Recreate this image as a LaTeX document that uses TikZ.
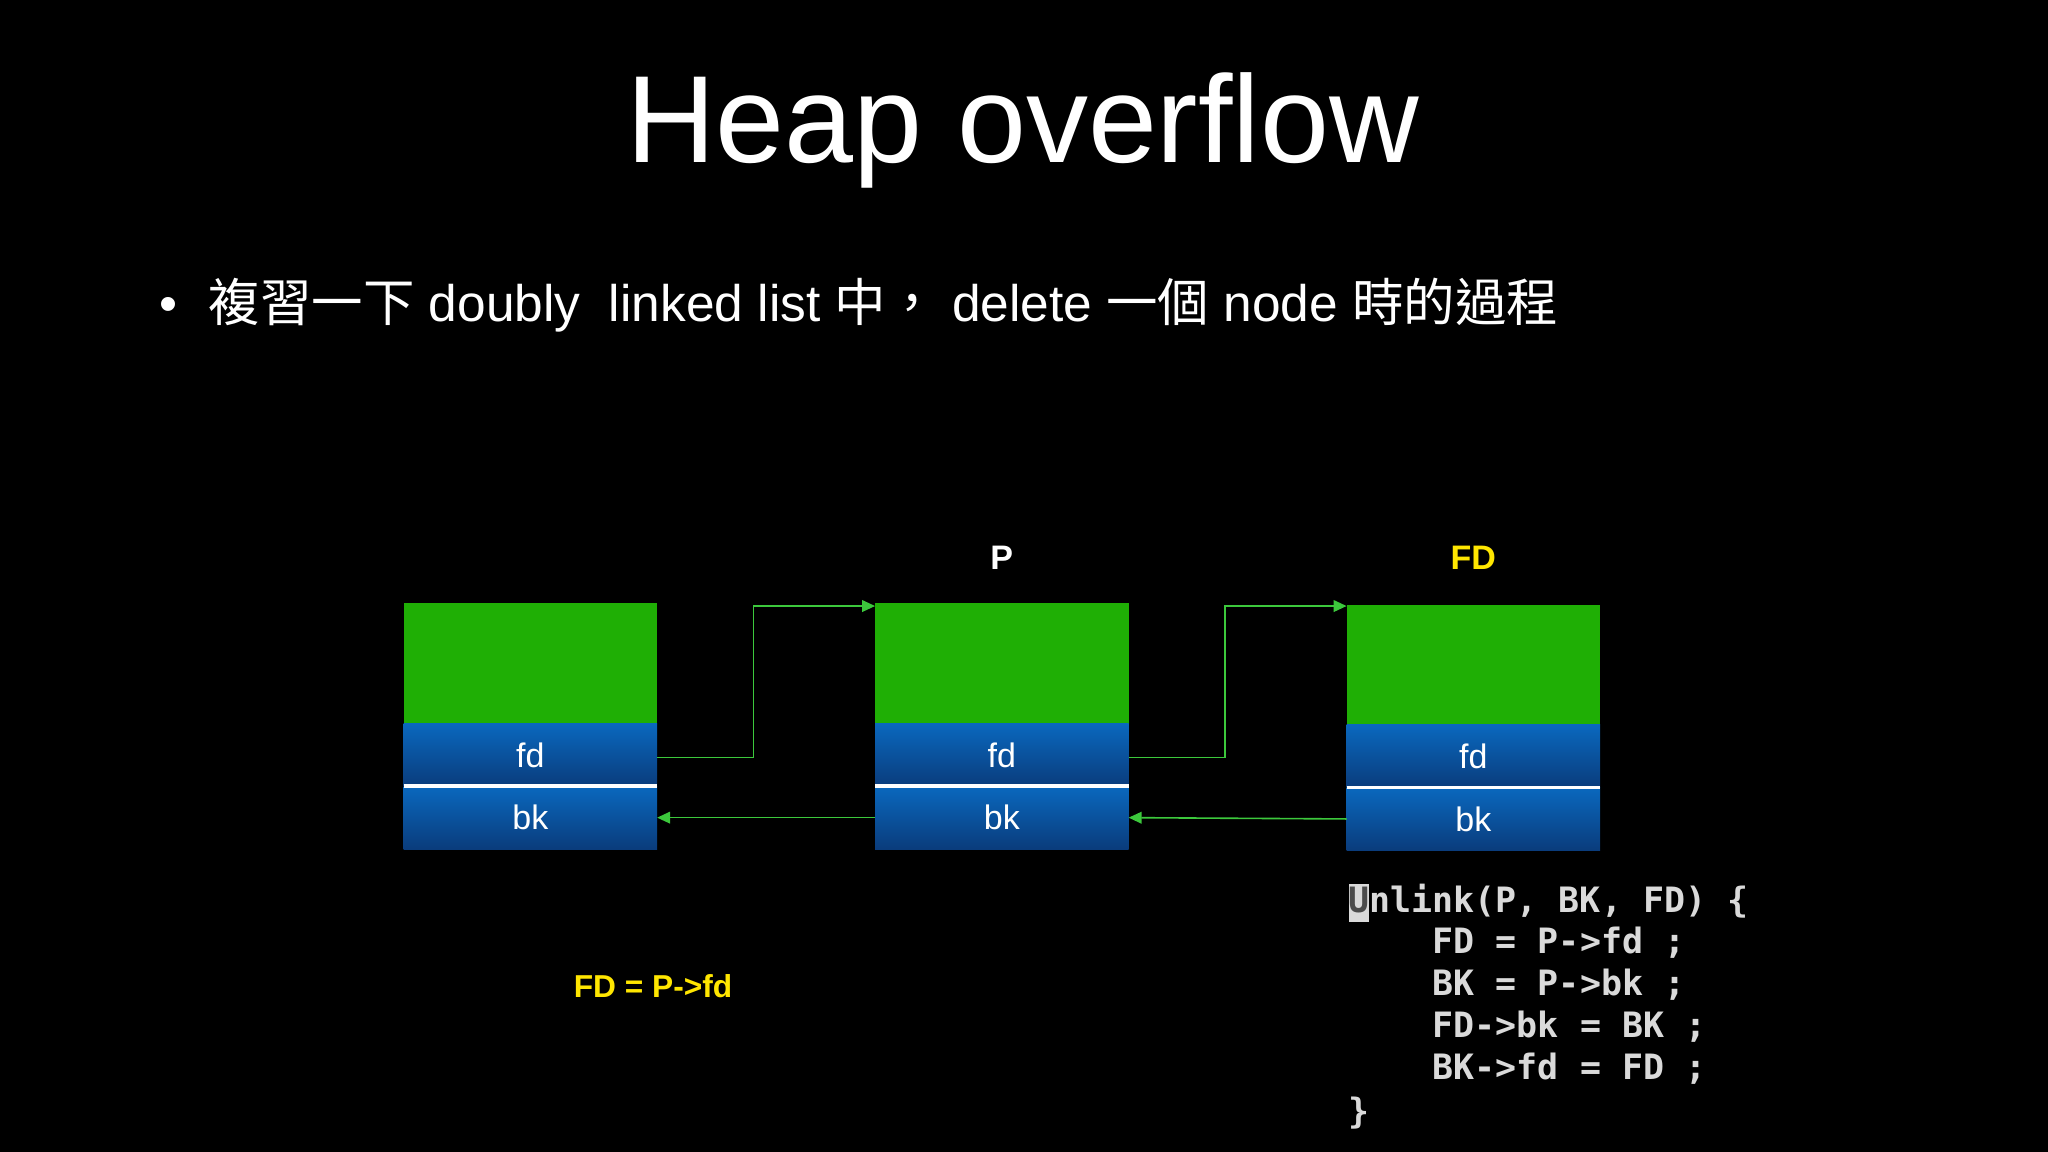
\documentclass[tikz,border=0pt]{standalone}
\usepackage{fontspec}
\setmainfont{Liberation Sans}
\setmonofont{DejaVu Sans Mono}
\newfontfamily\cjk{Noto Sans CJK TC}
\usetikzlibrary{arrows.meta}
\definecolor{grn}{HTML}{1FAF05}
\definecolor{bltop}{HTML}{0A68BE}
\definecolor{blbot}{HTML}{0A3C7C}
\definecolor{ylw}{HTML}{FFE600}
\definecolor{lnk}{HTML}{3CC83C}
\definecolor{codec}{HTML}{DADADA}
\tikzset{
  greenbox/.style={fill=grn, minimum width=1.94cm, minimum height=0.92cm, inner sep=0, outer sep=0, anchor=north west},
  fieldbox/.style={top color=bltop, bottom color=blbot, minimum width=1.94cm, minimum height=0.48cm, inner sep=0, outer sep=0, anchor=north west, text=white, font=\fontsize{7.4pt}{8pt}\selectfont},
  link/.style={draw=lnk, line width=0.35pt, -{Triangle[length=1mm,width=0.9mm]}},
  codeline/.style={anchor=west, text=codec, font=\ttfamily\bfseries\fontsize{7.6pt}{9pt}\selectfont, inner sep=0},
}
\begin{document}
\begin{tikzpicture}[x=0.01cm,y=-0.01cm]
\fill[black] (0,0) rectangle (1568,882);
\node[text=white, font=\fontsize{27pt}{30pt}\selectfont] (title) at (783,100) {Heap overflow};
\node[text=white, anchor=west, font=\fontsize{11.2pt}{13pt}\selectfont] (bullet) at (110,234) {•\hspace{0.6em}{\cjk 複習一下} doubly\ \ linked list {\cjk 中，} delete {\cjk 一個} node {\cjk 時的過程}};
% boxes
\foreach \n/\x/\y in {a/309/462, b/670/462, c/1031/463} {
  \node[greenbox] (\n g) at (\x,\y) {};
  \node[fieldbox] (\n fd) at (\x,\y+92) {fd};
  \node[fieldbox] (\n bk) at (\x,\y+140) {bk};
  \draw[white, line width=0.8pt] (\n fd.south west) -- (\n fd.south east);
}
\node[text=white, font=\bfseries\fontsize{7.4pt}{8pt}\selectfont] (lp) at (767,427) {P};
\node[text=ylw, font=\bfseries\fontsize{7.4pt}{8pt}\selectfont] (lfd) at (1128,427) {FD};
% links
\coordinate (a1) at (577,580); \coordinate (a2) at (577,464);
\coordinate (b1) at (938,580); \coordinate (b2) at (938,464);
\draw[link] (afd.east |- a1) -- (a1) -- (a2) -- (bg.west |- a2);
\draw[link] (bfd.east |- b1) -- (b1) -- (b2) -- (cg.west |- b2);
\draw[link] (bbk.west) -- (abk.east);
\draw[link] (cbk.west) -- (bbk.east);
\node[text=ylw, font=\bfseries\fontsize{6.9pt}{8pt}\selectfont] (eq) at (500,755) {FD = P->fd};
% code
\fill[codec] (1033,677) rectangle (1048,706);
\node[codeline] (c1) at (1032,690) {\textcolor{black!70}{U}nlink(P, BK, FD) \{};
\node[codeline] (c2) at (1032,722) {\ \ \ \ FD = P->fd ;};
\node[codeline] (c3) at (1032,754) {\ \ \ \ BK = P->bk ;};
\node[codeline] (c4) at (1032,786) {\ \ \ \ FD->bk = BK ;};
\node[codeline] (c5) at (1032,818) {\ \ \ \ BK->fd = FD ;};
\node[codeline] (c6) at (1032,852) {\}};
\end{tikzpicture}
\end{document}
